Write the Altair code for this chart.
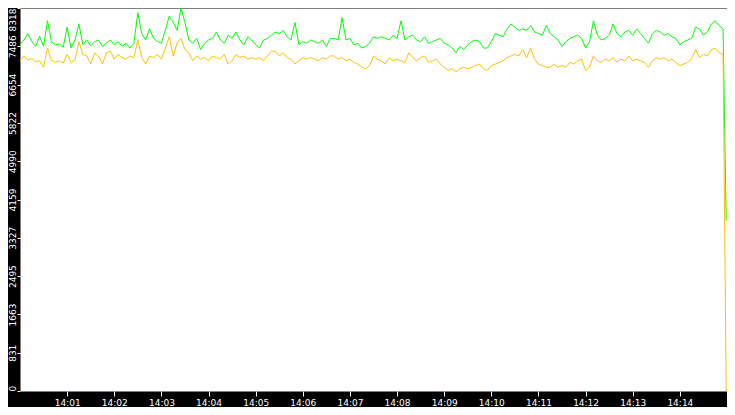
import altair as alt
import pandas as pd

# values, one sample every 5 s from 14:00:00, last sample 14:14:59
green = [
    7519, 7623, 7762, 7588, 7484, 7706, 7484, 8040, 7588, 7519, 7540, 7470, 7901, 7449, 7623, 7970, 7519, 7623, 7498, 7588,
    7623, 7484, 7554, 7623, 7519, 7588, 7484, 7554, 7449, 7554, 8214, 7762, 7623, 7866, 7658, 7588, 7554, 7832, 8144, 8005,
    7832, 8318, 8005, 7623, 7554, 7658, 7415, 7554, 7623, 7658, 7797, 7623, 7554, 7727, 7658, 7797, 7623, 7519, 7693, 7623,
    7519, 7449, 7623, 7658, 7727, 7797, 7762, 7832, 7693, 7623, 8005, 7519, 7588, 7554, 7623, 7588, 7554, 7623, 7484, 7658,
    7658, 7623, 8110, 7623, 7658, 7519, 7554, 7449, 7484, 7554, 7693, 7658, 7693, 7658, 7623, 7727, 7658, 8040, 7623, 7693,
    7727, 7623, 7588, 7693, 7554, 7588, 7623, 7658, 7554, 7519, 7449, 7345, 7484, 7415, 7519, 7588, 7623, 7588, 7449, 7449,
    7588, 7762, 7727, 7693, 7866, 7970, 7901, 7832, 7866, 7832, 7936, 7797, 7762, 7727, 7936, 7762, 7693, 7623, 7484, 7588,
    7658, 7693, 7727, 7658, 7449, 7588, 8040, 7727, 7623, 7658, 7727, 7970, 7762, 7693, 7797, 7832, 7727, 7866, 7762, 7658,
    7554, 7762, 7832, 7797, 7727, 7762, 7693, 7658, 7519, 7588, 7623, 7658, 7901, 7866, 7727, 7797, 7970, 8040, 7936, 7866,
    3700,
]
yellow = [
    7171, 7276, 7192, 7220, 7150, 7171, 7032, 7449, 7192, 7137, 7171, 7123, 7310, 7137, 7192, 7588, 7310, 7276, 7102, 7345,
    7276, 7102, 7345, 7380, 7206, 7310, 7241, 7206, 7276, 7241, 7623, 7241, 7102, 7276, 7241, 7310, 7206, 7449, 7693, 7276,
    7554, 7658, 7415, 7345, 7171, 7276, 7206, 7241, 7171, 7276, 7241, 7206, 7310, 7102, 7171, 7310, 7241, 7276, 7206, 7241,
    7206, 7241, 7171, 7276, 7380, 7380, 7276, 7345, 7241, 7206, 7102, 7171, 7241, 7206, 7241, 7206, 7171, 7241, 7206, 7276,
    7276, 7206, 7241, 7171, 7206, 7137, 7102, 7032, 6998, 7067, 7276, 7206, 7171, 7102, 7241, 7171, 7206, 7171, 7137, 7345,
    7241, 7171, 7241, 7276, 7137, 7171, 7206, 7102, 7032, 6963, 6998, 6928, 6998, 7032, 6998, 7032, 7067, 7102, 6998, 6963,
    7067, 7102, 7137, 7171, 7241, 7276, 7310, 7276, 7415, 7241, 7449, 7206, 7102, 7067, 7032, 7032, 7102, 7032, 7067, 7032,
    7137, 7102, 7171, 7206, 6963, 7032, 7276, 7171, 7137, 7206, 7171, 7241, 7137, 7206, 7171, 7276, 7171, 7206, 7171, 7137,
    7032, 7171, 7241, 7206, 7241, 7171, 7206, 7137, 7067, 7102, 7137, 7206, 7415, 7241, 7310, 7276, 7415, 7449, 7345, 7310,
    0,
]
y_ticks = [0, 831, 1663, 2495, 3327, 4159, 4990, 5822, 6654, 7486, 8318]
x_tick_minutes = list(range(1, 15))

times = list(pd.date_range("2024-01-01 14:00:00", periods=len(green) - 1, freq="5s"))
times.append(pd.Timestamp("2024-01-01 14:14:59"))
df = pd.DataFrame({
    "t": [t.strftime("%Y-%m-%dT%H:%M:%S") for t in times],
    "green": green,
    "yellow": yellow,
})

FONT = "DejaVu Sans"

x_enc = alt.X(
    "t:T",
    scale=alt.Scale(domain=[
        alt.DateTime(year=2024, month=1, date=1, hours=14, minutes=0),
        alt.DateTime(year=2024, month=1, date=1, hours=14, minutes=15),
    ]),
    axis=alt.Axis(
        title=None, format="%H:%M", grid=False, domain=False,
        values=[alt.DateTime(year=2024, month=1, date=1, hours=14, minutes=m) for m in x_tick_minutes],
        tickColor="white", tickSize=5, labelColor="white", labelFont=FONT, labelFontSize=9,
        labelPadding=2, labelFlush=False, labelOverlap=False,
    ),
)
y_scale = alt.Scale(domain=[0, 8318], nice=False, zero=True)
y_axis = alt.Axis(
    title=None, grid=False, domain=False, values=y_ticks, format="d",
    tickColor="white", tickSize=3, labelColor="white", labelFont=FONT, labelFontSize=9,
    labelAngle=270,
    labelAlign=alt.ExprRef(expr="datum.value >= 8318 ? 'right' : (datum.value <= 0 ? 'left' : 'center')"),
    labelBaseline="bottom", labelPadding=0,
    labelFlush=False, labelOverlap=False,
)

base = alt.Chart(df)
g = base.mark_line(color="#00ff00", strokeWidth=1, clip=True).encode(
    x=x_enc, y=alt.Y("green:Q", scale=y_scale, axis=y_axis)
)
yl = base.mark_line(color="#ffc000", strokeWidth=1, clip=True).encode(
    x=x_enc, y=alt.Y("yellow:Q", scale=y_scale, axis=y_axis)
)

# whole chart 719 x 399 so that it fits inside the page's 8px margin
chart = alt.layer(g, yl).properties(
    width=707, height=383,
    autosize=alt.AutoSizeParams(type="none"),
    padding={"left": 12, "top": 0, "right": 0, "bottom": 16},
    background="black",
).configure_view(fill="white", stroke="transparent")

chart.save("out.html", embed_options={"renderer": "svg", "actions": False})
